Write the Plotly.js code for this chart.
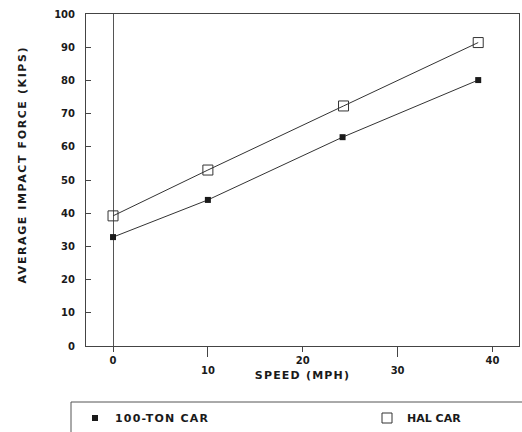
<!DOCTYPE html>
<html>
<head>
<meta charset="utf-8">
<script src="https://cdn.plot.ly/plotly-3.0.1.min.js"></script>
<style>
html,body{margin:0;padding:0;background:#fff;}
#chart{width:522px;height:432px;}
#chart .legendtext, #chart .g-xtitle text{letter-spacing:1.2px;}
#chart .annotation-text{letter-spacing:1.6px;}
</style>
</head>
<body>
<div id="chart"></div>
<script>
const speedTon = [0, 10, 24.2, 38.5];
const forceTon = [32.8, 44.0, 62.9, 80.1];
const speedHal = [0, 10, 24.3, 38.5];
const forceHal = [39.2, 53.0, 72.3, 91.4];
const seriesNames = ["100-TON CAR", "HAL CAR"];
const xTicksA = [0, 20, 40];
const xTicksB = [10, 30];
const yTicks = [0, 10, 20, 30, 40, 50, 60, 70, 80, 90, 100];

const FONT = "DejaVu Sans, Liberation Sans, Arial, sans-serif";
const ink = "#1a1a1a";

const traces = [
  {
    x: speedTon, y: forceTon, type: "scatter", mode: "lines",
    line: {color: "#333", width: 1}, showlegend: false, hoverinfo: "skip"
  },
  {
    x: speedHal, y: forceHal, type: "scatter", mode: "lines",
    line: {color: "#333", width: 1}, showlegend: false, hoverinfo: "skip"
  },
  {
    x: speedTon, y: forceTon, name: seriesNames[0], type: "scatter", mode: "markers",
    marker: {symbol: "square", size: 6, color: ink, line: {width: 0}}, legend: "legend"
  },
  {
    x: speedHal, y: forceHal, name: seriesNames[1], type: "scatter", mode: "markers",
    marker: {symbol: "square-open", size: 10, color: "#333", line: {width: 1}}, legend: "legend2"
  },
  {
    x: [10], y: [0], xaxis: "x2", yaxis: "y", type: "scatter", mode: "markers",
    marker: {opacity: 0}, showlegend: false, hoverinfo: "skip"
  }
];

const tickFont = {family: FONT, size: 10, color: ink, weight: "bold"};
const legFont = {family: FONT, size: 11, color: ink, weight: "bold"};

const layout = {
  width: 522, height: 432,
  margin: {l: 86, r: 3, t: 14, b: 86},
  paper_bgcolor: "#fff", plot_bgcolor: "#fff",
  font: {family: FONT, color: ink},
  showlegend: true,
  xaxis: {
    range: [-2.85, 42.8], tickvals: xTicksA, ticktext: xTicksA.map(String),
    ticks: "outside", ticklen: 5, tickwidth: 1, tickcolor: "#444",
    ticklabelstandoff: 0, automargin: false,
    tickfont: tickFont, showgrid: false,
    showline: true, mirror: true, linecolor: "#444", linewidth: 1,
    zeroline: true, zerolinecolor: "#555", zerolinewidth: 1,
    title: {text: "SPEED (MPH)", font: {family: FONT, size: 11, color: ink, weight: "bold"}, standoff: 6}
  },
  xaxis2: {
    overlaying: "x", matches: "x", anchor: "y", side: "bottom",
    tickvals: xTicksB, ticktext: xTicksB.map(String),
    ticks: "outside", ticklen: 10, tickwidth: 1, tickcolor: "#444",
    ticklabelstandoff: 5, automargin: false,
    tickfont: tickFont, showgrid: false, showline: false, zeroline: false
  },
  yaxis: {
    range: [0, 100], tickvals: yTicks, ticktext: yTicks.map(String),
    ticks: "inside", ticklen: 5, tickwidth: 1, tickcolor: "#444",
    tickfont: tickFont, ticklabelstandoff: 8, showgrid: false, automargin: false,
    showline: true, mirror: true, linecolor: "#444", linewidth: 1,
    zeroline: false
  },
  annotations: [{
    text: "AVERAGE IMPACT FORCE (KIPS)", textangle: -90,
    xref: "paper", yref: "paper",
    x: (22 - 86) / 433, y: (346 - 165) / 332,
    xanchor: "center", yanchor: "middle", showarrow: false,
    font: {family: FONT, size: 11, color: ink, weight: "bold"}
  }],
  shapes: [{
    type: "rect", xref: "paper", yref: "paper",
    x0: (71 - 86) / 433, x1: (540 - 86) / 433,
    y0: (346 - 402) / 332, y1: (346 - 450) / 332,
    line: {color: "#555", width: 1}, fillcolor: "rgba(0,0,0,0)"
  }],
  legend: {
    orientation: "h", xref: "container", yref: "container",
    x: 75 / 522, y: (432 - 418) / 432, xanchor: "left", yanchor: "middle",
    entrywidth: 150, entrywidthmode: "pixels",
    bgcolor: "rgba(0,0,0,0)", borderwidth: 0, font: legFont, itemclick: false
  },
  legend2: {
    orientation: "h", xref: "container", yref: "container",
    x: 367 / 522, y: (432 - 418) / 432, xanchor: "left", yanchor: "middle",
    entrywidth: 110, entrywidthmode: "pixels",
    bgcolor: "rgba(0,0,0,0)", borderwidth: 0, font: legFont, itemclick: false
  }
};

Plotly.newPlot("chart", traces, layout, {displayModeBar: false, staticPlot: true});
</script>
</body>
</html>
